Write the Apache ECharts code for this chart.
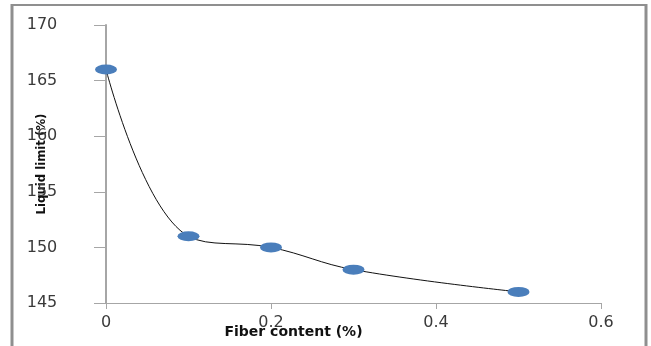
<!DOCTYPE html>
<html><head><meta charset="utf-8">
<script src="https://cdn.jsdelivr.net/npm/echarts@6/dist/echarts.min.js"></script>
<style>html,body{margin:0;padding:0;background:#fff}#c{width:651px;height:346px}</style>
</head><body><div id="c"></div>
<script>
const fiberContent = [0, 0.1, 0.2, 0.3, 0.5];
const liquidLimit = [166, 151, 150, 148, 146];
const xTicks = [0, 0.2, 0.4, 0.6];
const yTicks = [145, 150, 155, 160, 165, 170];

const chart = echarts.init(document.getElementById('c'), null, {renderer: 'canvas'});
chart.setOption({
  animation: false,
  backgroundColor: '#fff',
  grid: {left: 106, right: 50, top: 25, bottom: 43, containLabel: false, outerBoundsMode: 'none'},
  graphic: [
    {type: 'line', shape: {x1: 12, y1: 4, x2: 12, y2: 346}, style: {stroke: '#8f8f8f', lineWidth: 3}},
    {type: 'line', shape: {x1: 11, y1: 5, x2: 647, y2: 5}, style: {stroke: '#8f8f8f', lineWidth: 2}},
    {type: 'line', shape: {x1: 646, y1: 4, x2: 646, y2: 346}, style: {stroke: '#8f8f8f', lineWidth: 3}}
  ],
  xAxis: {
    type: 'value', min: xTicks[0], max: xTicks[xTicks.length - 1], interval: 0.2,
    splitLine: {show: false},
    axisLine: {show: true, onZero: false, lineStyle: {color: '#a6a6a6', width: 1}},
    axisTick: {show: true, inside: false, length: 6, lineStyle: {color: '#a6a6a6'}},
    axisLabel: {margin: 12, color: '#3a3a3a', fontFamily: 'DejaVu Sans', fontSize: 16,
      formatter: v => String(v)},
    name: 'Fiber content (%)', nameLocation: 'middle', nameGap: 22, nameMoveOverlap: false,
    nameTextStyle: {fontFamily: 'DejaVu Sans', fontWeight: 'bold', fontSize: 14, color: '#111',
      padding: [0, 120, 0, 0]}
  },
  yAxis: {
    type: 'value', min: yTicks[0], max: yTicks[yTicks.length - 1], interval: 5,
    splitLine: {show: false},
    axisLine: {show: true, lineStyle: {color: '#a6a6a6', width: 2}},
    axisTick: {show: true, inside: false, length: 12, lineStyle: {color: '#a6a6a6'}},
    axisLabel: {margin: 64, align: 'center', color: '#3a3a3a', fontFamily: 'DejaVu Sans', fontSize: 16},
    name: 'Liquid limit (%)', nameLocation: 'middle', nameGap: 58, nameMoveOverlap: false,
    nameTextStyle: {fontFamily: "'Liberation Sans Narrow', 'DejaVu Sans Condensed', sans-serif",
      fontWeight: 'bold', fontSize: 13, color: '#111', padding: [0, 0, 0, 0]}
  },
  series: [{
    type: 'line',
    data: fiberContent.map((x, i) => [x, liquidLimit[i]]),
    smooth: 0.4,
    symbol: 'circle',
    symbolSize: [22, 10],
    lineStyle: {color: '#111', width: 1},
    itemStyle: {color: '#4a7ebb'},
    z: 3
  }]
});
</script></body></html>
